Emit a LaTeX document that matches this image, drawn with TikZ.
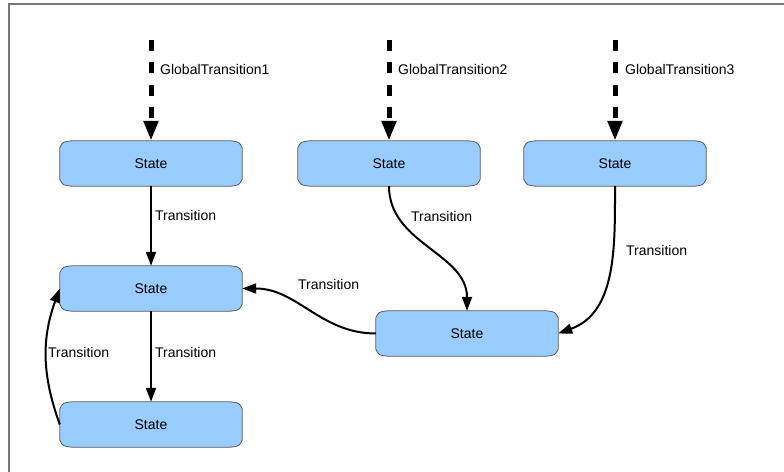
\documentclass[tikz,border=0pt]{standalone}
\usepackage{fontspec}
\setmainfont{Liberation Sans}
\usetikzlibrary{arrows.meta,backgrounds,calc}
\definecolor{stfill}{RGB}{153,204,255}
\definecolor{stline}{RGB}{90,90,90}
\definecolor{framegray}{RGB}{120,120,120}
\newcommand\stshape[1]{%
  \filldraw[stshapestyle]
    ([xshift=12bp]#1.north west) -- ([xshift=-12bp]#1.north east)
    .. controls ([xshift=-3bp,yshift=-1bp]#1.north east) .. ([yshift=-7bp]#1.north east)
    -- ([yshift=7bp]#1.south east)
    .. controls ([xshift=-3bp,yshift=1bp]#1.south east) .. ([xshift=-12bp]#1.south east)
    -- ([xshift=12bp]#1.south west)
    .. controls ([xshift=3bp,yshift=1bp]#1.south west) .. ([yshift=7bp]#1.south west)
    -- ([yshift=-7bp]#1.north west)
    .. controls ([xshift=3bp,yshift=-1bp]#1.north west) .. ([xshift=12bp]#1.north west)
    -- cycle;}
\tikzset{
  stshapestyle/.style={fill=stfill,draw=stline,line width=0.8bp},
  statebox/.style={draw=none,minimum width=182bp,minimum height=45bp,inner sep=0pt},
  lbl/.style={anchor=west,inner sep=0pt},
  trans/.style={line width=2bp,-{Triangle[length=14bp,width=10bp]}},
  gtrans/.style={line width=5bp,dash pattern=on 11bp off 11.5bp,-{Triangle[length=20bp,width=14bp]}},
}
\begin{document}
\begin{tikzpicture}[x=1bp,y=1bp,font=\fontsize{14bp}{16bp}\selectfont]
\useasboundingbox (0,0) rectangle (784,472);
\draw[framegray,line width=1.5bp] (9,0) -- (9,468) -- (784,468);

\node[statebox] (n1) at (151,308.5) {State};
\node[statebox] (n2) at (389,308.5) {State};
\node[statebox] (n3) at (615,308.5) {State};
\node[statebox] (n4) at (151,183.5) {State};
\node[statebox] (n5) at (151,47.5) {State};
\node[statebox] (n6) at (467,138.5) {State};

\begin{scope}[on background layer]
\stshape{n1}\stshape{n2}\stshape{n3}\stshape{n4}\stshape{n5}\stshape{n6}
\end{scope}

\coordinate (g1) at (151,432);
\coordinate (g2) at (389,432);
\coordinate (g3) at (615,432);
\draw[gtrans] (g1) -- (n1.north);
\draw[gtrans] (g2) -- (n2.north);
\draw[gtrans] (g3) -- (n3.north);
\node[lbl] (lg1) at (160,402) {GlobalTransition1};
\node[lbl] (lg2) at (398,402) {GlobalTransition2};
\node[lbl] (lg3) at (625,402) {GlobalTransition3};

\draw[trans] (n1.south) -- (n4.north);
\draw[trans] (n2.south) to[out=-90,in=90] (n6.north);
\draw[trans] (n3.south) to[out=-90,in=20] (n6.east);
\draw[trans] (n6.west) to[out=180,in=0] (n4.east);
\draw[trans] (n4.south) -- (n5.north);
\draw[trans] (n5.west) to[out=110,in=250] (n4.west);

\node[lbl] (l1) at (155,256) {Transition};
\node[lbl] (l2) at (411,255) {Transition};
\node[lbl] (l3) at (626,221) {Transition};
\node[lbl] (l4) at (298,187) {Transition};
\node[lbl] (l5) at (155,119) {Transition};
\node[lbl] (l6) at (48,119) {Transition};
\end{tikzpicture}
\end{document}
